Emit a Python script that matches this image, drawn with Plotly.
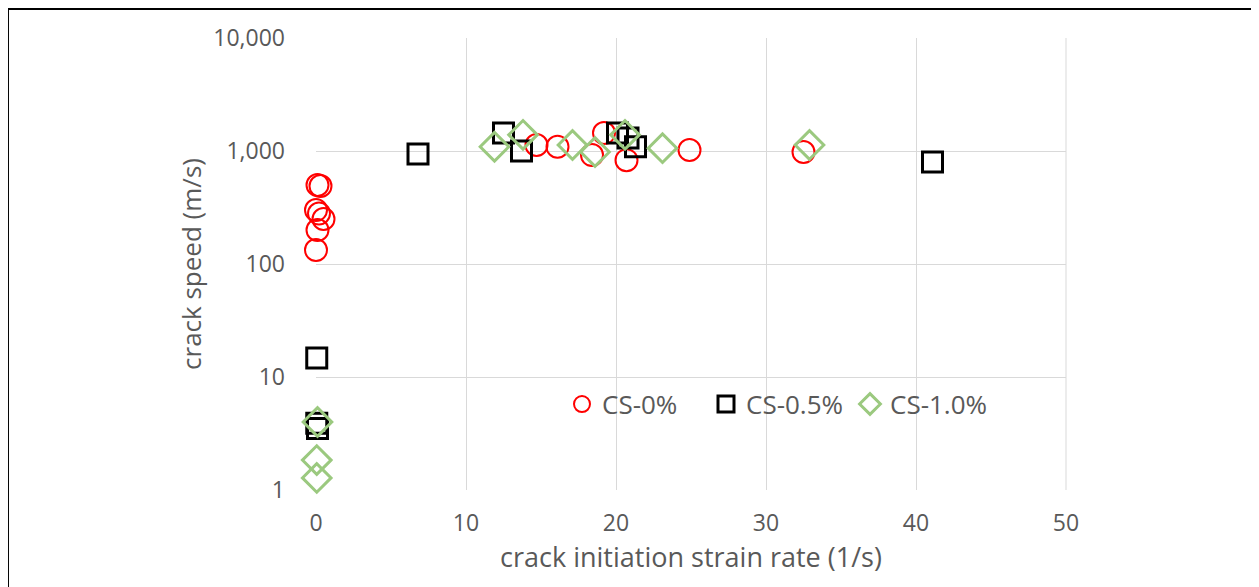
import plotly.graph_objects as go

# CS-0% (red circles)
cs0_x = [0.1, 0.3, 0.0, 0.2, 0.5, 0.1, 0.0, 14.7, 16.1, 18.4, 19.2, 20.7, 24.9, 32.5]
cs0_y = [500, 490, 300, 280, 250, 200, 133, 1130, 1090, 920, 1440, 830, 1020, 980]
# CS-0.5% (black squares)
cs05_x = [0.05, 0.05, 0.1, 6.8, 12.5, 13.7, 20.1, 20.8, 21.3, 41.1]
cs05_y = [14.7, 3.9, 3.5, 940, 1440, 1000, 1440, 1300, 1090, 800]
# CS-1.0% (green diamonds)
cs10_x = [0.1, 0.05, 0.05, 11.9, 13.8, 17.1, 18.6, 20.6, 23.1, 32.9]
cs10_y = [4.0, 1.84, 1.28, 1090, 1390, 1130, 980, 1390, 1060, 1130]

y_tickvals = [1, 10, 100, 1000, 10000]
y_ticktext = ["1", "10", "100", "1,000", "10,000"]
x_tickvals = [0, 10, 20, 30, 40, 50]

FONT = "Open Sans"
GRAY = "#595959"

fig = go.Figure()
fig.add_trace(go.Scatter(x=cs0_x, y=cs0_y, mode="markers", name="CS-0%",
                         cliponaxis=False,
                         marker=dict(symbol="circle-open", size=22, color="#ff0000",
                                     line=dict(width=2, color="#ff0000"))))
fig.add_trace(go.Scatter(x=cs05_x, y=cs05_y, mode="markers", name="CS-0.5%",
                         cliponaxis=False,
                         marker=dict(symbol="square-open", size=20, color="#000000",
                                     line=dict(width=3, color="#000000"))))
fig.add_trace(go.Scatter(x=cs10_x, y=cs10_y, mode="markers", name="CS-1.0%",
                         cliponaxis=False,
                         marker=dict(symbol="diamond-open", size=22, color="#9bc97f",
                                     line=dict(width=3, color="#9bc97f"))))

# page has an 8px body margin, so the figure is offset by (8, 8)
fig.update_layout(
    width=1251, height=579,
    margin=dict(l=308, r=193, t=30, b=97),
    paper_bgcolor="white", plot_bgcolor="white",
    font=dict(family=FONT, color=GRAY),
    showlegend=True,
    legend=dict(orientation="h", x=0.328, y=0.19, xanchor="left", yanchor="middle",
                font=dict(size=26, color=GRAY, family=FONT), bgcolor="rgba(0,0,0,0)",
                itemwidth=30, tracegroupgap=0, entrywidth=99, entrywidthmode="pixels"),
    xaxis=dict(range=[0, 50], tickvals=x_tickvals, showgrid=True, gridcolor="#d9d9d9",
               gridwidth=1, zeroline=False, showline=False,
               tickfont=dict(size=23, color=GRAY, family=FONT), ticklabelstandoff=17,
               title=dict(text="crack initiation strain rate (1/s)",
                          font=dict(size=27, color=GRAY, family=FONT), standoff=0)),
    yaxis=dict(type="log", range=[0, 4], tickvals=y_tickvals, ticktext=y_ticktext,
               showgrid=True, gridcolor="#d9d9d9", gridwidth=1, zeroline=False,
               showline=False, tickfont=dict(size=23, color=GRAY, family=FONT),
               ticklabelstandoff=30,
               title=dict(text="crack speed (m/s)",
                          font=dict(size=26, color=GRAY, family=FONT), standoff=4)),
)

# outer frame of the figure
fig.add_shape(type="rect", xref="paper", yref="paper",
              x0=-0.4107, x1=1.4, y0=-0.25, y1=1.0642,
              line=dict(color="black", width=2), fillcolor="rgba(0,0,0,0)", layer="above")
fig.add_shape(type="line", xref="paper", yref="paper",
              x0=1.0, x1=1.0, y0=0, y1=1, line=dict(color="#d9d9d9", width=1), layer="below")

fig.write_html("out.html")
